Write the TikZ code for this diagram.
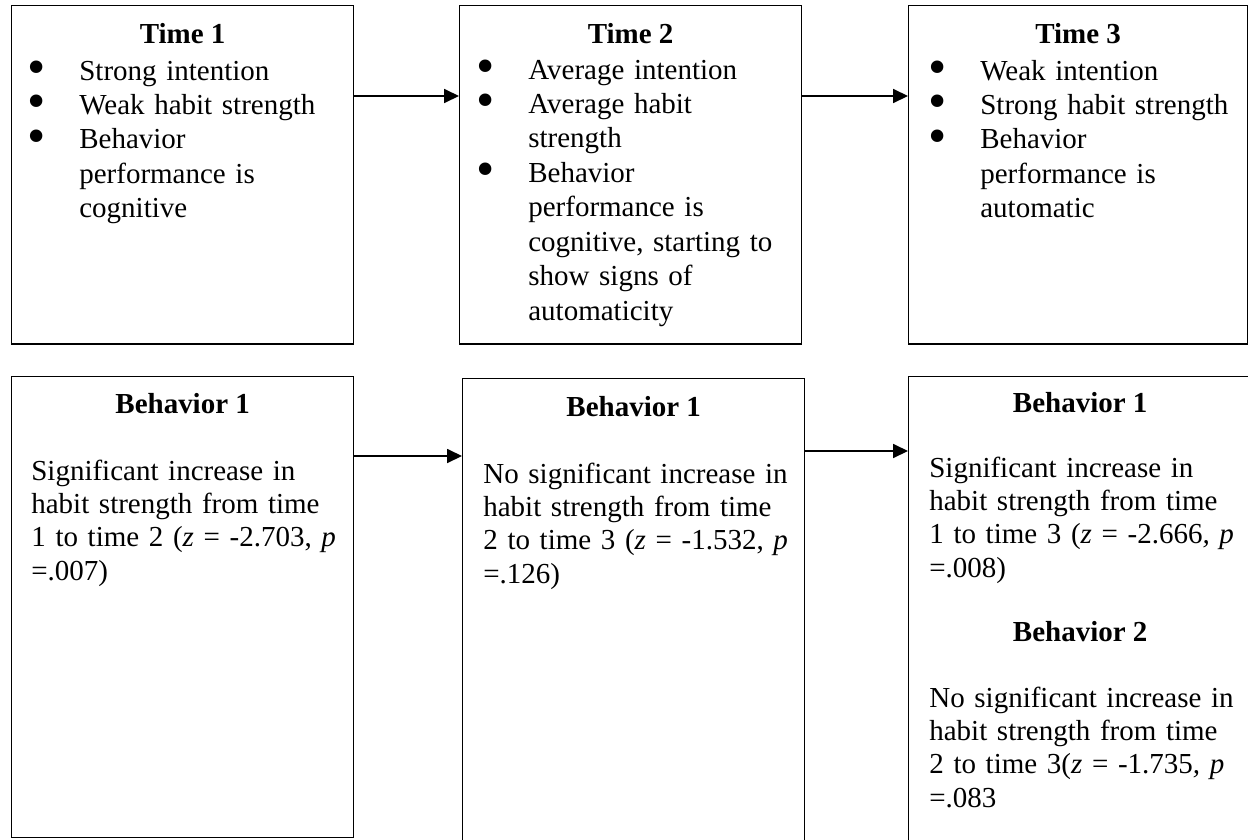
\documentclass[tikz,border=0pt]{standalone}
\usepackage{fontspec}
\setmainfont{Liberation Serif}
\usetikzlibrary{arrows.meta}

\newcommand{\bitem}{\leavevmode\llap{\raisebox{-2.4pt}{\scalebox{1.8}{\textbullet}}\hspace{0.68cm}}}

\tikzset{
  box/.style={draw, line width=0.8pt, anchor=north west, inner sep=0pt, minimum width=6.84cm},
  head/.style={font=\fontsize{16.5}{19.6}\selectfont\bfseries, inner sep=0pt, anchor=base},
  list/.style={font=\fontsize{16.5}{19.6}\selectfont, inner sep=0pt, anchor=base west, text width=6.2cm, align=left},
  para/.style={list, font=\fontsize{16.5}{19}\selectfont},
  arr/.style={-{Triangle[length=8.5pt,width=8pt]}, line width=0.8pt}
}

\begin{document}
\begin{tikzpicture}[x=0.02cm, y=-0.02cm]
    \useasboundingbox (0,0) rectangle (1248,839);
    \clip (0,0) rectangle (1248,839);

    % Time 1
    \node[box, minimum height=6.77cm] (t1) at (11,5) {};
    \node[head] (t1h) at (t1.north |- 0,43) {Time 1};
    \node[list] (t1l) at (79,80)
        {\bitem Strong intention\\ \bitem Weak habit strength\\ \bitem Behavior\\ performance is\\ cognitive};

    % Time 2
    \node[box, minimum height=6.77cm] (t2) at (459,5) {};
    \node[head] (t2h) at (t2.north |- 0,43) {Time 2};
    \node[list] (t2l) at (528,79)
        {\bitem Average intention\\ \bitem Average habit\\ strength\\ \bitem Behavior\\ performance is\\
         cognitive, starting to\\ show signs of\\ automaticity};

    % Time 3
    \node[box, minimum height=6.77cm, minimum width=6.78cm] (t3) at (908,5) {};
    \node[head] (t3h) at (t3.north |- 0,43) {Time 3};
    \node[list] (t3l) at (980,80)
        {\bitem Weak intention\\ \bitem Strong habit strength\\ \bitem Behavior\\ performance is\\ automatic};

    % Arrows between times
    \draw[arr] (t1.east |- 0,96) -- (t2.west |- 0,96);
    \draw[arr] (t2.east |- 0,96) -- (t3.west |- 0,96);

    % Behavior, time 1 to time 2
    \node[box, minimum height=9.22cm] (b1) at (11,376) {};
    \node[head] (b1h) at (b1.north |- 0,413) {Behavior 1};
    \node[para] (b1p) at (31,480)
        {Significant increase in\\ habit strength from time\\
         1 to time 2 (\textit{z} = -2.703, \textit{p}\\ =.007)};

    % Behavior, time 2 to time 3
    \node[box, minimum height=9.8cm] (b2) at (462,378) {};
    \node[head] (b2h) at (b2.north |- 0,416) {Behavior 1};
    \node[para] (b2p) at (483,483)
        {No significant increase in\\ habit strength from time\\
         2 to time 3 (\textit{z} = -1.532, \textit{p}\\ =.126)};

    % Behavior, time 1 to time 3
    \node[box, minimum height=9.8cm, minimum width=6.86cm] (b3) at (908,376) {};
    \node[head] (b3h) at (b3.north |- 0,412) {Behavior 1};
    \node[para] (b3p) at (929,477)
        {Significant increase in\\ habit strength from time\\
         1 to time 3 (\textit{z} = -2.666\textit{,} \textit{p}\\ =.008)};
    \node[head] (b3k) at (b3.north |- 0,641) {Behavior 2};
    \node[para] (b3q) at (929,707)
        {No significant increase in\\ habit strength from time\\
         2 to time 3(\textit{z} = -1.735\textit{,} \textit{p}\\ =.083};

    % Arrows between behaviors
    \draw[arr] (b1.east |- 0,456) -- (b2.west |- 0,456);
    \draw[arr] (b2.east |- 0,451) -- (b3.west |- 0,451);
\end{tikzpicture}
\end{document}
